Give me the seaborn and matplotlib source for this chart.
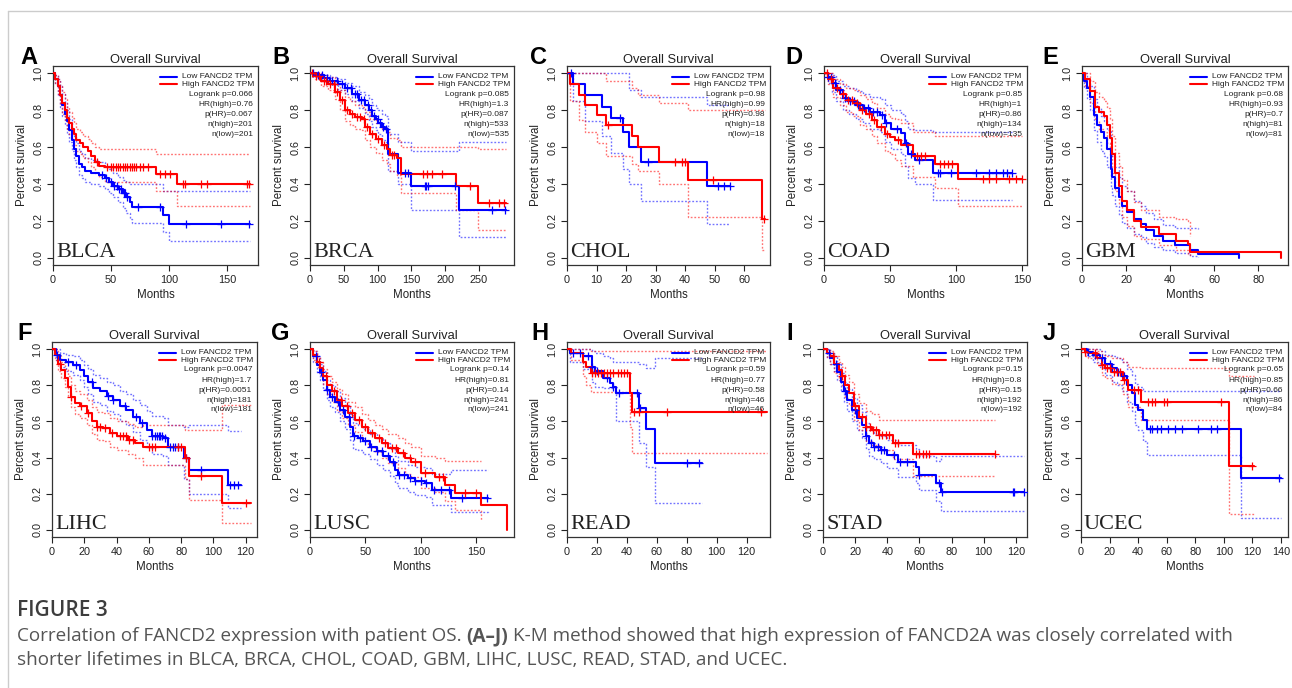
import numpy as np
import pandas as pd
import matplotlib
matplotlib.use("Agg")
import matplotlib.pyplot as plt
from matplotlib.lines import Line2D
import seaborn as sns

# ---------------------------------------------------------------- data
# Kaplan-Meier step curves: times (months), survival, upper / lower 95% CI,
# censoring times. "low" = Low FANCD2 TPM group, "high" = High FANCD2 TPM group.

# BLCA
blca_low_t = [0, 2, 4, 6, 8, 10, 12, 14, 16, 18, 20, 22, 25, 28, 33, 40, 45, 48, 52, 56, 60, 63, 66, 68, 95, 100, 170]
blca_low_s = [1.0, .97, .93, .88, .83, .78, .74, .69, .64, .59, .55, .51, .49, .47, .46, .45, .43, .41, .39, .37, .35, .33, .30, .275, .23, .185, .185]
blca_low_hi = [1.0, .99, .97, .93, .89, .84, .80, .75, .70, .66, .62, .58, .56, .54, .53, .52, .50, .48, .46, .44, .42, .41, .40, .40, .36, .36, .36]
blca_low_lo = [1.0, .94, .88, .82, .77, .72, .67, .63, .58, .53, .49, .45, .43, .41, .40, .39, .37, .35, .33, .30, .27, .24, .21, .19, .14, .09, .09]
blca_low_cens = [42, 46, 50, 53, 55, 57, 59, 61, 62, 64, 73, 92, 115, 145, 169]
blca_high_t = [0, 2, 4, 6, 8, 10, 12, 14, 16, 18, 20, 23, 26, 30, 33, 36, 40, 45, 89, 107, 170]
blca_high_s = [1.0, .97, .93, .88, .84, .80, .76, .73, .70, .67, .64, .62, .60, .58, .55, .52, .50, .49, .455, .40, .40]
blca_high_hi = [1.0, .99, .97, .93, .90, .86, .82, .79, .76, .73, .70, .68, .66, .645, .62, .60, .59, .59, .56, .56, .56]
blca_high_lo = [1.0, .95, .89, .83, .78, .74, .70, .67, .64, .61, .58, .56, .54, .52, .49, .46, .44, .41, .36, .28, .28]
blca_high_cens = [38, 47, 50, 52, 54, 56, 58, 60, 62, 64, 66, 68, 70, 72, 75, 78, 82, 92, 97, 101, 112, 114, 128, 133, 167, 169]
blca_stats = ["Logrank p=0.066", "HR(high)=0.76", "p(HR)=0.067", "n(high)=201", "n(low)=201"]

# BRCA
brca_low_t = [0, 10, 20, 30, 42, 52, 62, 72, 82, 88, 92, 97, 101, 106, 111, 116, 131, 150, 220, 290]
brca_low_s = [1.0, .99, .975, .96, .94, .92, .89, .855, .83, .80, .77, .75, .73, .71, .70, .56, .46, .39, .26, .26]
brca_low_hi = [1.0, 1.0, .99, .98, .97, .95, .93, .90, .88, .86, .83, .81, .80, .78, .77, .67, .63, .58, .63, .63]
brca_low_lo = [1.0, .98, .96, .94, .91, .89, .85, .81, .78, .74, .71, .69, .67, .64, .63, .47, .40, .26, .11, .11]
brca_low_cens = [5, 12, 18, 25, 33, 40, 47, 55, 60, 66, 70, 76, 80, 86, 90, 95, 100, 104, 108, 112, 140, 145, 170, 172, 175, 215, 270, 288]
brca_high_t = [0, 8, 17, 27, 37, 45, 52, 59, 67, 77, 82, 89, 97, 106, 114, 119, 129, 134, 216, 249, 290]
brca_high_s = [1.0, .985, .96, .945, .90, .855, .80, .78, .765, .755, .71, .67, .645, .61, .59, .555, .54, .455, .39, .295, .295]
brca_high_hi = [1.0, 1.0, .99, .98, .95, .91, .87, .85, .83, .82, .79, .75, .73, .70, .68, .65, .64, .60, .60, .59, .59]
brca_high_lo = [1.0, .97, .93, .91, .86, .80, .74, .72, .70, .69, .64, .60, .57, .53, .51, .47, .45, .35, .26, .15, .15]
brca_high_cens = [3, 9, 14, 20, 24, 30, 35, 40, 48, 55, 62, 70, 74, 80, 85, 92, 100, 110, 122, 125, 168, 173, 180, 195, 237, 265, 280, 287]
brca_stats = ["Logrank p=0.085", "HR(high)=1.3", "p(HR)=0.087", "n(high)=533", "n(low)=535"]

# CHOL
chol_low_t = [0, 2, 6, 12, 15, 19, 21, 25, 47.5, 55]
chol_low_s = [1.0, .945, .88, .82, .76, .68, .60, .52, .39, .39]
chol_low_hi = [1.0, 1.0, 1.0, 1.0, 1.0, 1.0, .91, .87, .83, .83]
chol_low_lo = [1.0, .85, .74, .66, .57, .48, .40, .31, .18, .18]
chol_low_cens = [1.5, 18, 27.5, 51, 53, 55]
chol_high_t = [0, 1, 4, 6, 10, 13.3, 22, 24, 31, 41, 66, 67]
chol_high_s = [1.0, .945, .885, .83, .775, .72, .66, .60, .52, .42, .21, .21]
chol_high_hi = [1.0, 1.0, 1.0, 1.0, 1.0, .96, .92, .88, .84, .80, .80, .80]
chol_high_lo = [1.0, .85, .745, .68, .62, .55, .51, .47, .40, .22, .04, .04]
chol_high_cens = [14, 36.5, 39, 40, 49.5, 66.8]
chol_stats = ["Logrank p=0.98", "HR(high)=0.99", "p(HR)=0.98", "n(high)=18", "n(low)=18"]

# COAD
coad_low_t = [0, 3, 6, 9, 14, 19, 24.5, 29.5, 35, 42, 46, 51, 58.6, 61, 63.6, 68.7, 82.6, 142]
coad_low_s = [1.0, .98, .95, .91, .865, .85, .83, .81, .79, .775, .73, .70, .675, .62, .56, .53, .46, .46]
coad_low_hi = [1.0, 1.0, .99, .96, .93, .92, .905, .89, .87, .86, .83, .80, .78, .74, .70, .69, .68, .68]
coad_low_lo = [1.0, .95, .90, .85, .80, .78, .75, .73, .70, .68, .63, .59, .56, .50, .43, .40, .315, .315]
coad_low_cens = [3, 5, 8, 12, 16, 20, 23, 26, 30, 33, 37, 40, 44, 47, 55, 62, 66, 72, 86, 88, 96, 115, 125, 130, 135, 138, 142]
coad_high_t = [0, 3, 7, 12, 17, 22, 27, 32, 36, 40, 46, 50, 53.5, 58.6, 67, 84, 101.5, 150]
coad_high_s = [1.0, .97, .92, .89, .857, .84, .80, .78, .747, .71, .673, .655, .637, .61, .554, .508, .426, .426]
coad_high_hi = [1.0, 1.0, .97, .94, .92, .91, .88, .86, .84, .81, .78, .76, .75, .73, .68, .66, .66, .66]
coad_high_lo = [1.0, .94, .87, .83, .79, .77, .72, .70, .66, .62, .58, .56, .53, .50, .44, .38, .28, .28]
coad_high_cens = [2, 5, 10, 14, 18, 21, 25, 29, 34, 38, 43, 48, 56, 70, 73, 76, 88, 91, 94, 97, 120, 125, 130, 140, 145, 150]
coad_stats = ["Logrank p=0.85", "HR(high)=1", "p(HR)=0.86", "n(high)=134", "n(low)=135"]

# GBM
gbm_low_t = [0, 0.8, 2.3, 3.8, 5.3, 6.9, 8.4, 9.9, 11.4, 13, 13.7, 15.2, 16.8, 18.3, 20.6, 23.6, 26.7, 29, 32.8, 36.6, 42, 48.8, 52.6, 71.2]
gbm_low_s = [1.0, .96, .92, .87, .775, .72, .68, .65, .59, .48, .44, .38, .33, .28, .25, .21, .185, .15, .12, .09, .07, .04, .022, 0.0]
gbm_low_hi = [1.0, 1.0, .97, .93, .86, .81, .77, .74, .69, .58, .55, .49, .44, .39, .36, .31, .28, .24, .21, .175, .16, .16, .155]
gbm_low_lo = [1.0, .92, .86, .80, .69, .63, .58, .55, .49, .38, .34, .28, .23, .19, .16, .13, .11, .08, .06, .04, .025, .01, .005]
gbm_low_cens = []
gbm_high_t = [0, 1.5, 3.8, 6, 7.6, 9.9, 11.4, 12.5, 13.7, 15.2, 16.8, 18.3, 20.6, 23.6, 26.7, 35, 42.7, 48, 49, 90.4]
gbm_high_s = [1.0, .97, .905, .82, .79, .77, .72, .65, .56, .46, .39, .31, .258, .20, .166, .13, .092, .074, .028, 0.0]
gbm_high_hi = [1.0, 1.0, .96, .90, .87, .85, .81, .75, .66, .57, .50, .42, .36, .30, .26, .22, .21, .20, .12]
gbm_high_lo = [1.0, .93, .84, .74, .70, .68, .62, .55, .46, .36, .29, .22, .17, .12, .10, .07, .04, .02, .005]
gbm_high_cens = []
gbm_stats = ["Logrank p=0.68", "HR(high)=0.93", "p(HR)=0.7", "n(high)=81", "n(low)=81"]

# LIHC
lihc_low_t = [0, 2.7, 4.8, 8.9, 13, 17.2, 20, 22.4, 25.5, 29.7, 33.8, 38, 42, 46, 50.4, 54.6, 58.7, 61.8, 69, 72, 82, 85, 109, 117]
lihc_low_s = [1.0, .97, .94, .93, .91, .886, .85, .82, .785, .768, .74, .72, .683, .664, .627, .59, .553, .517, .507, .46, .40, .33, .25, .25]
lihc_low_hi = [1.0, 1.0, .98, .97, .96, .94, .91, .89, .86, .84, .82, .80, .77, .75, .72, .69, .66, .63, .62, .58, .57, .58, .545, .545]
lihc_low_lo = [1.0, .94, .90, .88, .86, .83, .79, .75, .71, .69, .66, .64, .60, .58, .54, .50, .46, .42, .41, .36, .28, .20, .12, .12]
lihc_low_cens = [3, 10, 15, 25, 35, 38, 45, 52, 56, 62, 64, 65, 66, 67, 68, 70, 73, 75, 76, 78, 83, 92, 110, 113, 115]
lihc_high_t = [0, 1.7, 3.7, 5.8, 7.9, 10, 12, 14, 17.2, 21.4, 24.5, 27.6, 31.7, 35.9, 40, 47.3, 51.5, 56.6, 82.6, 85, 105.4, 123]
lihc_high_s = [1.0, .97, .92, .886, .84, .793, .738, .70, .683, .646, .60, .572, .565, .535, .517, .50, .48, .46, .40, .30, .15, .15]
lihc_high_hi = [1.0, 1.0, .96, .93, .89, .85, .80, .77, .75, .72, .68, .65, .645, .62, .60, .585, .57, .58, .55, .55, .69, .69]
lihc_high_lo = [1.0, .94, .88, .84, .79, .74, .68, .64, .62, .58, .53, .50, .49, .46, .44, .42, .40, .36, .28, .166, .037, .037]
lihc_high_cens = [5, 12, 18, 22, 28, 30, 33, 37, 42, 44, 46, 48, 50, 60, 62, 64, 78, 80, 83, 92, 120]
lihc_stats = ["Logrank p=0.0047", "HR(high)=1.7", "p(HR)=0.0051", "n(high)=181", "n(low)=181"]

# LUSC
lusc_low_t = [0, 3, 6, 9, 12, 15, 18, 22.5, 27, 31.5, 36, 39, 43.5, 48, 54, 60, 66, 72, 76.5, 79.5, 88.5, 94.6, 103.6, 109.6, 127.6, 160.6]
lusc_low_s = [1.0, .96, .913, .876, .83, .775, .738, .71, .664, .627, .572, .517, .507, .49, .46, .434, .406, .378, .332, .304, .286, .268, .258, .22, .175, .175]
lusc_low_hi = [1.0, .99, .95, .92, .88, .83, .80, .77, .73, .69, .64, .59, .58, .56, .53, .51, .48, .45, .41, .38, .36, .35, .34, .31, .33, .33]
lusc_low_lo = [1.0, .93, .87, .83, .78, .72, .68, .65, .60, .56, .50, .45, .44, .42, .39, .36, .33, .30, .26, .23, .21, .19, .18, .14, .10, .09]
lusc_low_cens = [5, 10, 15, 20, 25, 30, 35, 40, 45, 50, 55, 60, 65, 70, 75, 80, 85, 90, 95, 100, 105, 112, 118, 125, 137, 160]
lusc_high_t = [0, 3, 6, 9, 12, 15, 19.5, 24, 28.5, 34.5, 40.5, 46.5, 52.5, 58.5, 64.5, 70.5, 79.5, 85.5, 91.5, 100.5, 112.6, 121.6, 130.6, 154.6, 177.5]
lusc_high_s = [1.0, .97, .93, .895, .85, .80, .766, .72, .683, .646, .61, .572, .535, .507, .48, .452, .424, .397, .378, .314, .295, .25, .203, .138, 0.0]
lusc_high_hi = [1.0, .99, .96, .93, .89, .85, .82, .78, .75, .71, .68, .64, .61, .58, .56, .53, .51, .48, .46, .41, .40, .38, .38, .38]
lusc_high_lo = [1.0, .94, .90, .86, .81, .75, .71, .66, .62, .58, .54, .50, .46, .43, .40, .37, .34, .31, .29, .23, .21, .16, .11, .05]
lusc_high_cens = [8, 14, 22, 28, 33, 38, 44, 50, 56, 62, 68, 74, 78, 84, 90, 95, 104, 116, 120, 140, 150]
lusc_stats = ["Logrank p=0.14", "HR(high)=0.81", "p(HR)=0.14", "n(high)=241", "n(low)=241"]

# READ
read_low_t = [0, 2, 10.7, 16.5, 18.5, 24, 28.6, 30.8, 33, 48, 53, 58.7, 90]
read_low_s = [1.0, .98, .96, .90, .877, .84, .815, .79, .755, .673, .557, .37, .37]
read_low_hi = [1.0, 1.0, 1.0, .99, .98, .96, .95, .93, .93, .92, .895, .95, .95]
read_low_lo = [1.0, .93, .89, .82, .79, .785, .785, .785, .60, .48, .35, .15, .15]
read_low_cens = [4, 9, 14, 17, 20, 27, 31, 35, 47, 49, 80, 88]
read_high_t = [0, 2.9, 10.7, 13, 16.3, 42, 43.5, 133.5]
read_high_s = [1.0, .98, .93, .90, .87, .756, .65, .65]
read_high_hi = [1.0, 1.0, 1.0, 1.0, .99, .99, .99, .99]
read_high_lo = [1.0, .94, .85, .80, .765, .57, .428, .428]
read_high_cens = [17, 19, 21, 23, 25, 27, 29, 31, 34, 36, 38, 40, 45, 48, 67, 130]
read_stats = ["Logrank p=0.59", "HR(high)=0.77", "p(HR)=0.58", "n(high)=46", "n(low)=46"]

# STAD
stad_low_t = [0, 2.5, 4.6, 6.7, 8.8, 10.9, 13, 15, 18.2, 21.3, 24.5, 26.6, 28.7, 31.8, 36, 40, 46.4, 58, 60, 70.5, 73.6, 125]
stad_low_s = [1.0, .978, .95, .92, .876, .82, .766, .72, .664, .618, .58, .517, .48, .46, .443, .415, .378, .35, .304, .258, .207, .207]
stad_low_hi = [1.0, 1.0, .98, .96, .92, .87, .82, .78, .73, .69, .65, .59, .55, .53, .52, .50, .47, .45, .41, .38, .406, .406]
stad_low_lo = [1.0, .95, .92, .88, .83, .77, .71, .66, .60, .55, .51, .45, .41, .39, .37, .34, .29, .26, .22, .16, .106, .106]
stad_low_cens = [4, 8, 14, 20, 27, 30, 32, 34, 36, 38, 44, 48, 52, 60, 72, 74, 118, 119, 125]
stad_high_t = [0, 2.5, 4.6, 6.7, 9.8, 12, 14, 16, 19.2, 22.4, 26.6, 30.8, 35, 43.7, 56.3, 107]
stad_high_s = [1.0, .98, .96, .92, .886, .85, .80, .756, .683, .627, .572, .553, .525, .48, .42, .42]
stad_high_hi = [1.0, 1.0, .99, .96, .93, .90, .86, .82, .75, .70, .66, .64, .61, .61, .61, .61]
stad_high_lo = [1.0, .95, .92, .87, .83, .79, .73, .69, .61, .55, .49, .47, .44, .39, .30, .30]
stad_high_cens = [6, 12, 20, 24, 27, 29, 31, 33, 35, 37, 39, 41, 45, 47, 58, 60, 62, 64, 66, 107]
stad_stats = ["Logrank p=0.15", "HR(high)=0.8", "p(HR)=0.15", "n(high)=192", "n(low)=192"]

# UCEC
ucec_low_t = [0, 4, 8.6, 13.3, 16.8, 21.5, 25, 28.5, 32, 35.5, 37.9, 40, 43.7, 46, 112, 140]
ucec_low_s = [1.0, .987, .97, .95, .92, .895, .876, .85, .80, .756, .69, .664, .61, .557, .286, .286]
ucec_low_hi = [1.0, 1.0, 1.0, .99, .97, .96, .95, .93, .89, .86, .81, .79, .77, .766, .766, .766]
ucec_low_lo = [1.0, .96, .93, .90, .86, .82, .80, .77, .71, .66, .58, .55, .49, .415, .065, .065]
ucec_low_cens = [5, 10, 15, 20, 22, 26, 30, 48, 50, 53, 56, 61, 66, 71, 82, 91, 95, 139]
ucec_high_t = [0, 2.8, 5, 11, 14.5, 16.8, 21.5, 29.7, 33, 42, 104, 121]
ucec_high_s = [1.0, .987, .978, .95, .913, .895, .876, .83, .775, .71, .356, .356]
ucec_high_hi = [1.0, 1.0, 1.0, .99, .97, .96, .95, .93, .90, .895, .85, .85]
ucec_high_lo = [1.0, .96, .95, .91, .86, .84, .81, .75, .68, .61, .09, .09]
ucec_high_cens = [3, 10, 15, 18, 20, 23, 25, 27, 30, 37, 40, 47, 50, 52, 58, 60, 98, 120]
ucec_stats = ["Logrank p=0.65", "HR(high)=0.85", "p(HR)=0.66", "n(high)=86", "n(low)=84"]

panel_letters = ["A", "B", "C", "D", "E", "F", "G", "H", "I", "J"]
cancer_names = ["BLCA", "BRCA", "CHOL", "COAD", "GBM", "LIHC", "LUSC", "READ", "STAD", "UCEC"]
x_max = [176.8, 302, 68.7, 153.5, 93.5, 127, 184, 135.7, 127, 145]
x_ticks = [
    [0, 50, 100, 150],
    [0, 50, 100, 150, 200, 250],
    [0, 10, 20, 30, 40, 50, 60],
    [0, 50, 100, 150],
    [0, 20, 40, 60, 80],
    [0, 20, 40, 60, 80, 100, 120],
    [0, 50, 100, 150],
    [0, 20, 40, 60, 80, 100, 120],
    [0, 20, 40, 60, 80, 100, 120],
    [0, 20, 40, 60, 80, 100, 120, 140],
]
y_ticks = [0.0, 0.2, 0.4, 0.6, 0.8, 1.0]

legend_labels = ["Low FANCD2 TPM", "High FANCD2 TPM"]
caption_title = "FIGURE 3"
caption_parts = [
    ("Correlation of FANCD2 expression with patient OS.", "normal"),
    ("(A\u2013J)", "bold"),
    ("K-M method showed that high expression of FANCD2A was closely correlated with", "normal"),
]
caption_line2 = "shorter lifetimes in BLCA, BRCA, CHOL, COAD, GBM, LIHC, LUSC, READ, STAD, and UCEC."

panel_data = {
    "BLCA": (blca_low_t, blca_low_s, blca_low_hi, blca_low_lo, blca_low_cens,
             blca_high_t, blca_high_s, blca_high_hi, blca_high_lo, blca_high_cens, blca_stats),
    "BRCA": (brca_low_t, brca_low_s, brca_low_hi, brca_low_lo, brca_low_cens,
             brca_high_t, brca_high_s, brca_high_hi, brca_high_lo, brca_high_cens, brca_stats),
    "CHOL": (chol_low_t, chol_low_s, chol_low_hi, chol_low_lo, chol_low_cens,
             chol_high_t, chol_high_s, chol_high_hi, chol_high_lo, chol_high_cens, chol_stats),
    "COAD": (coad_low_t, coad_low_s, coad_low_hi, coad_low_lo, coad_low_cens,
             coad_high_t, coad_high_s, coad_high_hi, coad_high_lo, coad_high_cens, coad_stats),
    "GBM": (gbm_low_t, gbm_low_s, gbm_low_hi, gbm_low_lo, gbm_low_cens,
            gbm_high_t, gbm_high_s, gbm_high_hi, gbm_high_lo, gbm_high_cens, gbm_stats),
    "LIHC": (lihc_low_t, lihc_low_s, lihc_low_hi, lihc_low_lo, lihc_low_cens,
             lihc_high_t, lihc_high_s, lihc_high_hi, lihc_high_lo, lihc_high_cens, lihc_stats),
    "LUSC": (lusc_low_t, lusc_low_s, lusc_low_hi, lusc_low_lo, lusc_low_cens,
             lusc_high_t, lusc_high_s, lusc_high_hi, lusc_high_lo, lusc_high_cens, lusc_stats),
    "READ": (read_low_t, read_low_s, read_low_hi, read_low_lo, read_low_cens,
             read_high_t, read_high_s, read_high_hi, read_high_lo, read_high_cens, read_stats),
    "STAD": (stad_low_t, stad_low_s, stad_low_hi, stad_low_lo, stad_low_cens,
             stad_high_t, stad_high_s, stad_high_hi, stad_high_lo, stad_high_cens, stad_stats),
    "UCEC": (ucec_low_t, ucec_low_s, ucec_low_hi, ucec_low_lo, ucec_low_cens,
             ucec_high_t, ucec_high_s, ucec_high_hi, ucec_high_lo, ucec_high_cens, ucec_stats),
}

# ---------------------------------------------------------------- layout (pixels)
W, H = 1292, 688
ROW_TOP = [66, 342]
ROW_BOT = [265, 537]
COL_L = [[53, 310, 567, 824, 1082], [52, 310, 567, 823, 1081]]
COL_R = [[258, 514, 770, 1027, 1288], [257, 514, 770, 1027, 1288]]
LETTER_X = [[20, 272, 530, 785, 1042], [17, 271, 531, 786, 1043]]

BLUE = "#0000FF"
RED = "#FF0000"
INK = "#222222"

sns.set_theme(style="white")
plt.rcParams["font.family"] = ["Liberation Sans", "DejaVu Sans"]

fig = plt.figure(figsize=(W / 100, H / 100), dpi=100)
fig.patch.set_facecolor("white")


def fx(px):
    return px / W


def fy(py):
    return 1 - py / H


def step_value(t, s, q):
    t = np.asarray(t, float)
    s = np.asarray(s, float)
    idx = np.searchsorted(t, np.asarray(q, float), side="right") - 1
    return s[np.clip(idx, 0, len(s) - 1)]


def draw_group(ax, t, s, hi, lo, cens, color):
    n = min(len(t), len(hi), len(lo))
    ci = pd.DataFrame({"t": t[:n], "hi": hi[:n], "lo": lo[:n]})
    for col in ("hi", "lo"):
        sns.lineplot(data=ci, x="t", y=col, ax=ax, color=color, lw=1.0, alpha=0.55,
                     linestyle=(0, (1.3, 1.3)), drawstyle="steps-post",
                     estimator=None, sort=False, legend=False)
    curve = pd.DataFrame({"t": t, "s": s})
    sns.lineplot(data=curve, x="t", y="s", ax=ax, color=color, lw=1.5,
                 drawstyle="steps-post", estimator=None, sort=False, legend=False, zorder=3)
    if len(cens):
        marks = pd.DataFrame({"t": cens, "s": step_value(t, s, cens)})
        sns.scatterplot(data=marks, x="t", y="s", ax=ax, marker="+", s=30,
                        color=color, linewidth=0.9, legend=False, zorder=4)


for k, name in enumerate(cancer_names):
    row, col = divmod(k, 5)
    L, R = COL_L[row][col], COL_R[row][col]
    T, B = ROW_TOP[row], ROW_BOT[row]
    ax = fig.add_axes([fx(L), fy(B), (R - L) / W, (B - T) / H])
    (lt, ls, lhi, llo, lc, ht, hs, hhi, hlo, hc, stats) = panel_data[name]

    draw_group(ax, lt, ls, lhi, llo, lc, BLUE)
    draw_group(ax, ht, hs, hhi, hlo, hc, RED)

    ax.set_xlim(0, x_max[k])
    ax.set_ylim(-0.04, 1.04)
    ax.set_xticks(x_ticks[k])
    ax.set_xticklabels([str(v) for v in x_ticks[k]])
    ax.set_yticks(y_ticks)
    ax.set_yticklabels([f"{v:.1f}" for v in y_ticks])
    ax.set_xlabel("")
    ax.set_ylabel("")
    ax.tick_params(direction="out", length=4, width=0.8, color=INK,
                   labelcolor=INK, labelsize=7.8, pad=3,
                   bottom=True, left=True)
    for lab in ax.get_yticklabels():
        lab.set_rotation(90)
        lab.set_va("center")
    for sp in ax.spines.values():
        sp.set_visible(True)
        sp.set_color("#333333")
        sp.set_linewidth(0.9)
    ax.set_facecolor("white")

    # titles and axis labels
    fig.text(fx((L + R) / 2), fy(T - 6), "Overall Survival", ha="center", va="center",
             fontsize=9.3, color=INK)
    fig.text(fx((L + R) / 2), fy(B + 30), "Months", ha="center", va="center",
             fontsize=8.3, color=INK)
    fig.text(fx(L - 31), fy((T + B) / 2), "Percent survival", ha="center", va="center",
             rotation=90, fontsize=8.3, color=INK)

    # panel letter
    fig.text(fx(LETTER_X[row][col]), fy(T - 9), panel_letters[k], ha="left", va="center",
             fontsize=17, fontweight="bold", color="black")

    # cancer type
    y0 = B - (B - T) * 0.04 / 1.08
    fig.text(fx(L + 3), fy(y0 - 1), name, ha="left", va="baseline",
             fontsize=16, family=["Liberation Serif", "DejaVu Serif"], color=INK)

    # legend
    for i, (lab, colr) in enumerate(zip(legend_labels, [BLUE, RED])):
        yy = fy(T + 11 + 7 * i)
        fig.add_artist(Line2D([fx(R - 98), fx(R - 81)], [yy, yy], color=colr, lw=1.5,
                              transform=fig.transFigure))
        fig.text(fx(R - 76), yy, lab, ha="left", va="center", fontsize=6.0, color=INK)
    for i, line in enumerate(stats):
        fig.text(fx(R - 5), fy(T + 28 + 10 * i), line, ha="right", va="center",
                 fontsize=6.0, color=INK)

# frame lines around the figure block
fig.add_artist(Line2D([fx(8), fx(W)], [fy(11), fy(11)], color="#cccccc", lw=1.0,
                      transform=fig.transFigure))
fig.add_artist(Line2D([fx(8), fx(8)], [fy(11), fy(H)], color="#cccccc", lw=1.0,
                      transform=fig.transFigure))

# caption
cap_font = ["Open Sans", "DejaVu Sans"]
cap_size = 13.6
fig.text(fx(17), fy(610), caption_title, ha="left", va="center", fontsize=15,
         color="#3d3d3d", family=cap_font, fontweight="semibold")
renderer = fig.canvas.get_renderer()
x_px = 17
space_px = cap_size * 0.26 / 0.72
for txt, weight in caption_parts:
    t_obj = fig.text(fx(x_px), fy(636), txt, ha="left", va="center", fontsize=cap_size,
                     color="#555555", family=cap_font, fontweight=weight)
    bb = t_obj.get_window_extent(renderer=renderer)
    x_px = bb.x1 + space_px
fig.text(fx(17), fy(660), caption_line2, ha="left", va="center", fontsize=cap_size,
         color="#555555", family=cap_font)

fig.savefig("out.png", dpi=100, facecolor="white")
